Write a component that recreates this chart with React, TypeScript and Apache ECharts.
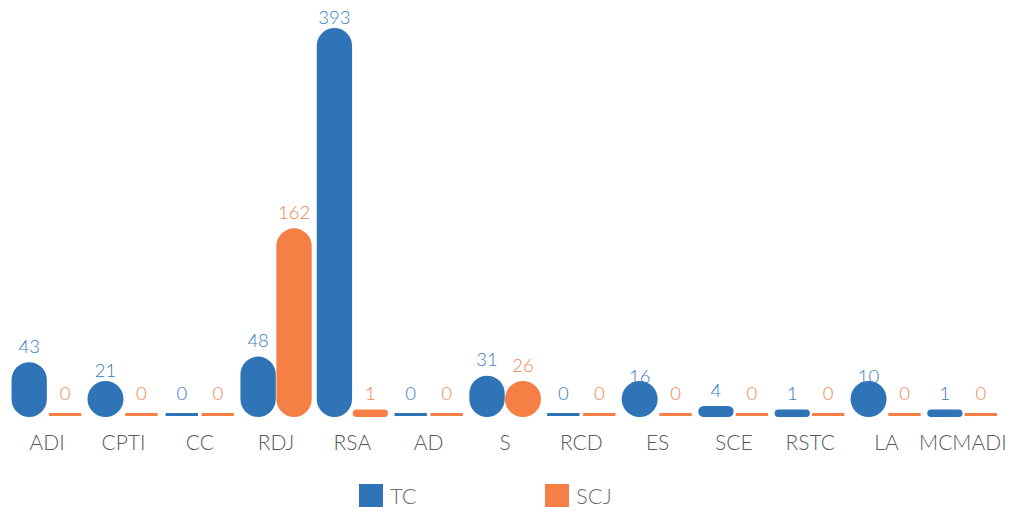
import React, { useEffect, useRef } from "react";
import * as echarts from "echarts";

const categories = ["ADI", "CPTI", "CC", "RDJ", "RSA", "AD", "S", "RCD", "ES", "SCE", "RSTC", "LA", "MCMADI"];
const tcValues = [43, 21, 0, 48, 393, 0, 31, 0, 16, 4, 1, 10, 1];
const scjValues = [0, 0, 0, 162, 1, 0, 26, 0, 0, 0, 0, 0, 0];
const seriesNames = ["TC", "SCJ"];
const seriesColors = ["#2E74B6", "#F57F45"];
const labelColors = ["#3A7CC0", "#F5834C"];

const FONT = "Lato, 'Open Sans', 'Noto Sans', sans-serif";

function makeRenderItem(slot: number, color: string, labelColor: string) {
  return (params: any, api: any) => {
    const idx = api.value(0);
    const val = api.value(1);
    const cs = params.coordSys;
    const gridTop = cs.y;
    const base = api.coord([idx, 0]);
    const topPt = api.coord([idx, val]);
    const catW = api.size([1, 0])[0];
    const barW = catW * 0.463;
    const cx = base[0] + (slot === 0 ? -1 : 1) * (barW / 2 + 0.3);
    const baseY = base[1];
    const children: any[] = [];
    let labelY: number;
    if (val === 0) {
      const w = barW - 3;
      children.push({
        type: "rect",
        shape: { x: cx - w / 2, y: baseY - 4, width: w, height: 3 },
        style: { fill: color },
      });
      labelY = topPt[1] - 24;
    } else {
      let h = baseY - topPt[1] + 6.5;
      let w = barW;
      if (h > 13 && h < 36) {
        h = 36;
        w = 36;
      }
      let y = baseY - h;
      let clipped = false;
      if (y < gridTop) {
        y = gridTop;
        h = baseY - gridTop;
        clipped = true;
      }
      const r = Math.min(w / 2, h / 2);
      children.push({
        type: "rect",
        shape: { x: cx - w / 2, y, width: w, height: h, r },
        style: { fill: color },
      });
      labelY = clipped ? gridTop - 11.5 : Math.min(topPt[1] - 23, y - 5);
    }
    children.push({
      type: "text",
      x: cx,
      y: labelY,
      style: {
        text: String(val),
        fill: labelColor,
        fontSize: 18.5,
        fontFamily: FONT,
        fontWeight: 300,
        align: "center",
        verticalAlign: "middle",
      },
    });
    return { type: "group", children };
  };
}

const legendBase = {
  top: 484,
  icon: "rect",
  itemWidth: 24,
  itemHeight: 23,
  padding: 0,
  textStyle: { fontSize: 22, color: "#6E6E6E", fontFamily: FONT, fontWeight: 300, padding: [0, 0, 0, 2] },
};

export default function App() {
  const ref = useRef<HTMLDivElement>(null);
  useEffect(() => {
    if (!ref.current) return;
    const chart = echarts.init(ref.current, undefined, { renderer: "svg" });
    const valueSets = [tcValues, scjValues];
    chart.setOption({
      animation: false,
      backgroundColor: "#ffffff",
      grid: { left: 9, right: 11, top: 28, bottom: 95 },
      legend: [
        { ...legendBase, data: [seriesNames[0]], left: 359 },
        { ...legendBase, data: [seriesNames[1]], left: 545 },
      ],
      xAxis: {
        type: "category",
        data: categories,
        boundaryGap: true,
        axisLine: { show: false },
        axisTick: { show: false },
        axisLabel: {
          color: "#595959",
          fontSize: 21,
          fontFamily: FONT,
          fontWeight: 300,
          margin: 14,
          interval: 0,
        },
      },
      yAxis: {
        type: "value",
        min: 0,
        max: 346,
        show: false,
        splitLine: { show: false },
      },
      series: seriesNames.map((name, s) => ({
        name,
        type: "custom",
        itemStyle: { color: seriesColors[s] },
        encode: { x: 0, y: 1 },
        data: valueSets[s].map((v, i) => [i, v]),
        renderItem: makeRenderItem(s, seriesColors[s], labelColors[s]),
      })),
    });
    return () => chart.dispose();
  }, []);
  return (
    <div
      ref={ref}
      style={{ position: "fixed", left: 0, top: 0, width: 1012, height: 512 }}
    />
  );
}
